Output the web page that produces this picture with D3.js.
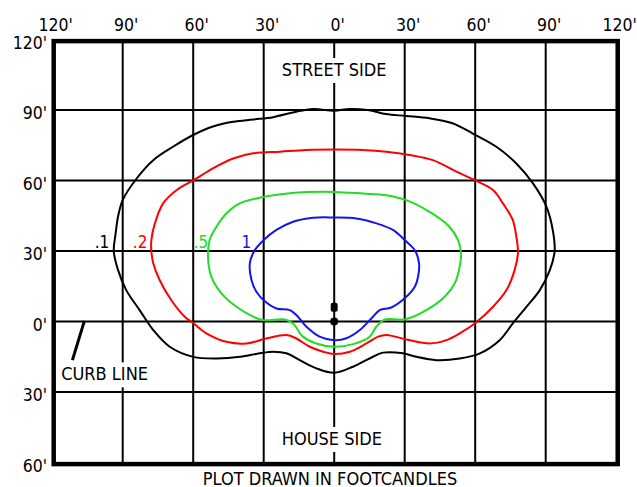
<!DOCTYPE html>
<html><head><meta charset="utf-8">
<script src="https://cdn.jsdelivr.net/npm/d3@7"></script>
<style>
html,body{margin:0;padding:0;background:#fff;}
svg{display:block;}
text{font-family:"DejaVu Sans Condensed","DejaVu Sans",sans-serif;font-stretch:condensed;fill:#000;}
</style></head><body>
<svg id="chart" width="637" height="487"></svg>
<script>
// ---- data (feet) ----
const xTicks = [-120,-90,-60,-30,0,30,60,90,120];
const yTicks = [120,90,60,30,0,-30,-60];
const levels = [".1",".2",".5","1"];
const colors = ["#000000","#ff0000","#22dd22","#1414f0"];

const contour01 = [[0,89.7],[6.6,90.5],[15,89.9],[22,88.3],[30.7,87.5],[40.6,86.5],[50.6,84.3],[59,80],[69,74.4],[77.5,67.3],[84.6,58.8],[90.3,48.9],[93,39],[93.8,30],[91.8,22],[87.5,13.4],[81.8,6.3],[76,-0.8],[70.4,-7.9],[62,-13.5],[53.4,-15.7],[43.5,-16.4],[35,-15],[29.3,-13.5],[20.8,-13.2],[15,-15.7],[8,-19.2],[0,-21.8],
  [-7.6,-19.9],[-14.7,-16.4],[-20.3,-13.5],[-26,-12.8],[-31.7,-13.5],[-40,-15],[-50,-15.7],[-60,-15],[-70,-10.7],[-77,-3.6],[-82.8,4.9],[-88.5,13.4],[-92,22],[-93.8,30],[-93,37.5],[-92,44.6],[-90,51.7],[-84,61],[-77,68.7],[-68.6,74.4],[-60,79.4],[-51.6,83],[-43,85],[-34.5,86],[-26,87],[-17.5,89],[-9,90.5]];
const contour02 = [[0,73.2],[12.3,73],[22.2,72.3],[32.1,70.9],[42,68.7],[52,63.8],[59.8,60.2],[67.6,56],[71.8,50.3],[76,43.2],[77.5,36.1],[78.2,29.3],[76.8,22],[73.3,13.4],[67.6,6.3],[59.8,-0.8],[53.4,-5],[47.7,-7.9],[40.6,-9.3],[30.7,-7.6],[22.2,-5.7],[18.7,-6.4],[13.7,-9.3],[6.7,-12.8],[0,-13.8],
  [-4.7,-12.8],[-10.4,-10.7],[-16.1,-7.2],[-20.3,-5.7],[-28.9,-7.2],[-37.4,-9.3],[-45.9,-8.6],[-54.4,-5],[-59.8,-0.8],[-63.6,2.1],[-69.3,9.1],[-74.3,17.7],[-77,24.8],[-77.8,30],[-77.8,34.7],[-76.3,41.8],[-72.8,50.3],[-67,56],[-59.8,60.2],[-51.6,65.2],[-43,69.4],[-34.5,71.6],[-23,72.3],[-11.8,73]];
const contour05 = [[0,55.2],[12.3,54.5],[22.2,53.8],[30.7,51.7],[40.6,46.7],[48.4,41],[52.7,34.7],[54,29],[53.4,23.4],[51.3,16.3],[47,10.6],[39.2,4.9],[30,0.9],[21.5,0.9],[17.9,-2.2],[15.1,-6.4],[8,-9.6],[0,-10.7],
  [-7.6,-9.3],[-13.3,-6.4],[-17.5,-0.8],[-21,0.9],[-30,0.6],[-34.5,2.1],[-41.6,6.3],[-48,12],[-52.3,19.1],[-53.7,27.6],[-53,34.7],[-50.1,40.4],[-45.9,46],[-40.2,50.3],[-30.3,53],[-21.7,54.3],[-11.8,55.1]];
const contour1 = [[0,44.3],[9.4,43.9],[18,41.8],[25,39],[30,34.7],[34.3,30.4],[36.1,24.8],[35.7,19.1],[34.3,14.8],[30,9.9],[24.3,6],[19.4,4.9],[16.5,2.1],[10.9,-3.6],[5.2,-7.1],[0,-7.9],
  [-6.2,-6.4],[-11.8,-2.2],[-16.1,2.8],[-18.9,4.9],[-24.6,5.6],[-30,9.1],[-33.1,12.7],[-35.2,17.7],[-35.9,24.8],[-33.8,30.4],[-30,34.7],[-24.6,39],[-17.5,42.5],[-9,44.2]];
const contours = [contour01, contour02, contour05, contour1];
const levelLabelPos = [[-101.9,31.3],[-85.7,31.3],[-59.8,31.3],[-39.5,31.3]];
const curbLine = [[-106.3,0.3],[-111.4,-16.4]];
const curbLabelPos = [-97.7,-25];
const poleBase = [0,0];
const poleHead = [0,4.2,8.0];
const streetLabel = "STREET SIDE", houseLabel = "HOUSE SIDE", curbLabel = "CURB LINE", footer = "PLOT DRAWN IN FOOTCANDLES";
const streetPos = [0,104.5], housePos = [-1,-52.5];

(function(){
// ---- scales ----
const svg = d3.select("#chart");
const x = d3.scaleLinear().domain([-120,120]).range([52.2,616.2]);
const y = d3.scaleLinear().domain([-60,120]).range([462.6,39.6]);
const fmt = d => Math.abs(d) + "'";

// grid
const g = svg.append("g");
g.selectAll("line.v").data(xTicks.filter(d=>Math.abs(d)<120)).join("line")
  .attr("x1",d=>x(d)).attr("x2",d=>x(d)).attr("y1",y(120)).attr("y2",y(-60))
  .attr("stroke","#000").attr("stroke-width",2);
g.selectAll("line.h").data(yTicks.filter(d=>d<120&&d>-60)).join("line")
  .attr("y1",d=>y(d)).attr("y2",d=>y(d)).attr("x1",x(-120)).attr("x2",x(120))
  .attr("stroke","#000").attr("stroke-width",2);

// axes
const axTop = svg.append("g").attr("transform",`translate(3,${y(120)-9})`)
  .call(d3.axisTop(x).tickValues(xTicks).tickFormat(fmt).tickSize(0).tickPadding(0));
axTop.select(".domain").remove();
const axLeft = svg.append("g").attr("transform",`translate(${x(-120)-5},3)`)
  .call(d3.axisLeft(y).tickValues(yTicks).tickFormat(fmt).tickSize(0).tickPadding(0));
axLeft.select(".domain").remove();
[axTop, axLeft].forEach(a => {
  a.attr("font-family",null).attr("font-size",null);
  a.selectAll("text").attr("font-size",17.5).attr("fill","#000");
  a.selectAll(".tick line").remove();
});

// labels with white background
function boxedText(txt, px, py, size){
  const t = svg.append("text").attr("x",px).attr("y",py).attr("text-anchor","middle")
    .attr("font-size",size).text(txt);
  const b = t.node().getBBox();
  svg.insert("rect", function(){return t.node();})
    .attr("x",b.x-2).attr("y",b.y-1).attr("width",b.width+4).attr("height",b.height+4).attr("fill","#fff");
  return t;
}
boxedText(streetLabel, x(streetPos[0]), y(streetPos[1]), 18);
boxedText(houseLabel, x(housePos[0]), y(housePos[1]), 18);
boxedText(curbLabel, x(curbLabelPos[0]), y(curbLabelPos[1]), 18);

// contours
const line = d3.line().x(d=>x(d[0])).y(d=>y(d[1])).curve(d3.curveCatmullRomClosed.alpha(0.5));
svg.append("g").selectAll("path").data(contours).join("path")
  .attr("d",line).attr("fill","none").attr("stroke",(d,i)=>colors[i]).attr("stroke-width",2)
  .attr("stroke-linejoin","round");
svg.append("g").selectAll("text").data(levels).join("text")
  .attr("x",(d,i)=>x(levelLabelPos[i][0])).attr("y",(d,i)=>y(levelLabelPos[i][1]))
  .attr("font-size",17).style("fill",(d,i)=>colors[i]).text(d=>d);

// curb line
svg.append("line").attr("x1",x(curbLine[0][0])).attr("y1",y(curbLine[0][1]))
  .attr("x2",x(curbLine[1][0])).attr("y2",y(curbLine[1][1]))
  .attr("stroke","#000").attr("stroke-width",3);

// pole
svg.append("circle").attr("cx",x(poleBase[0])).attr("cy",y(poleBase[1])).attr("r",4).attr("fill","#000");
svg.append("rect").attr("x",x(poleHead[0])-3.5).attr("y",y(poleHead[2])).attr("width",7)
  .attr("height",y(poleHead[1])-y(poleHead[2])).attr("rx",2).attr("fill","#000");

// frame
svg.append("rect").attr("x",x(-120)+1.5).attr("y",y(120)+1.5)
  .attr("width",x(120)-x(-120)).attr("height",y(-60)-y(120))
  .attr("fill","none").attr("stroke","#000").attr("stroke-width",4.5);

// footer
svg.append("text").attr("x",330).attr("y",485).attr("text-anchor","middle").attr("font-size",18).text(footer);
})();
</script>
</body></html>
